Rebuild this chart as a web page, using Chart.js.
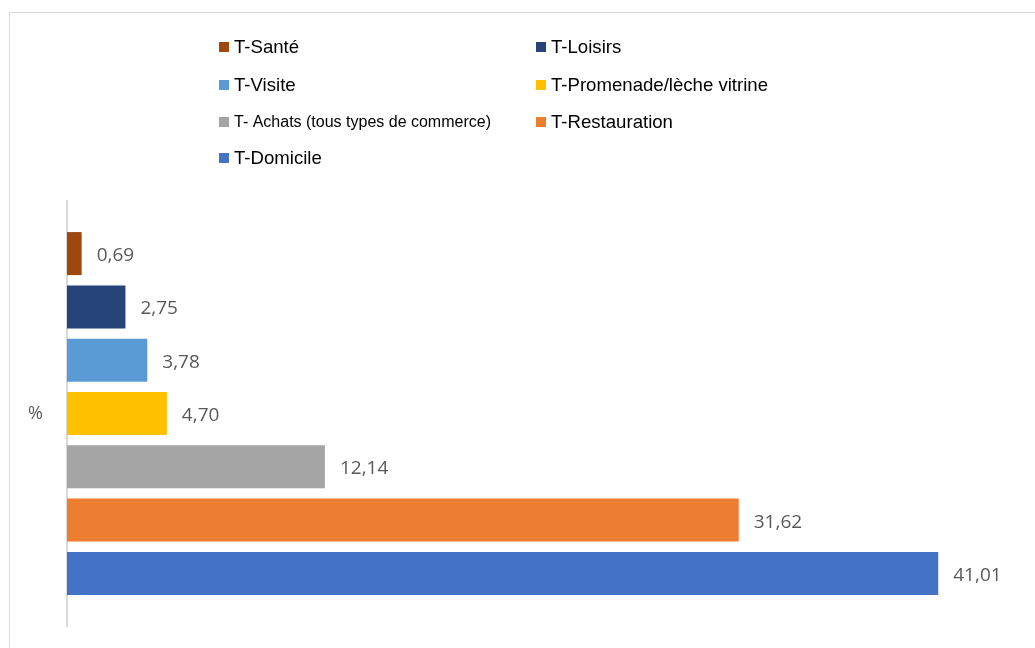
<!DOCTYPE html>
<html>
<head>
<meta charset="utf-8">
<script src="https://cdn.jsdelivr.net/npm/chart.js@4"></script>
<style>
  html, body { margin: 0; padding: 0; background: #fff; overflow: hidden; }
  #wrap { position: relative; width: 1035px; height: 648px; }
  #frame { position: absolute; left: 9px; top: 12px; width: 1100px; height: 700px; border: 1px solid #d9d9d9; box-sizing: border-box; border-width: 1px 0 0 1px; }
  canvas { position: absolute; left: 0; top: 0; }
</style>
</head>
<body>
<div id="wrap">
  <div id="frame"></div>
  <canvas id="c" width="1035" height="648"></canvas>
</div>
<script>
const categories = ['%'];
const seriesLabels = ['T-Santé', 'T-Loisirs', 'T-Visite', 'T-Promenade/lèche vitrine', 'T- Achats (tous types de commerce)', 'T-Restauration', 'T-Domicile'];
const seriesValues = [0.69, 2.75, 3.78, 4.70, 12.14, 31.62, 41.01];
const seriesColors = ['#9E480E', '#264478', '#5B9BD5', '#FFC000', '#A5A5A5', '#ED7D31', '#4472C4'];

const datasets = seriesLabels.map((lab, i) => ({
  label: lab,
  data: [seriesValues[i]],
  backgroundColor: seriesColors[i],
  borderWidth: 0,
  categoryPercentage: 0.878,
  barPercentage: 0.807
}));

const gridLegend = {
  id: 'gridLegend',
  afterDraw(chart, args, opts) {
    const ctx = chart.ctx;
    ctx.save();
    chart.data.datasets.forEach((ds, i) => {
      const col = i % 2, row = Math.floor(i / 2);
      const x = opts.colX[col], y = opts.rowY[row];
      ctx.fillStyle = ds.backgroundColor;
      ctx.fillRect(x, y - opts.box / 2, opts.box, opts.box);
      const size = ds.label.length > 28 ? opts.smallSize : opts.size;
      ctx.font = size + 'px "Liberation Sans", Arial, sans-serif';
      ctx.fillStyle = '#000';
      ctx.textAlign = 'left';
      ctx.textBaseline = 'middle';
      ctx.fillText(ds.label, x + opts.box + opts.gap, y + 1);
    });
    ctx.restore();
  }
};

const valueLabels = {
  id: 'valueLabels',
  afterDatasetsDraw(chart, args, opts) {
    const ctx = chart.ctx;
    ctx.save();
    ctx.font = opts.size + 'px "Open Sans", sans-serif';
    ctx.fillStyle = '#595959';
    ctx.textAlign = 'left';
    ctx.textBaseline = 'middle';
    chart.data.datasets.forEach((ds, i) => {
      const meta = chart.getDatasetMeta(i);
      meta.data.forEach((el, j) => {
        const v = ds.data[j];
        ctx.fillText(v.toFixed(2).replace('.', ','), el.x + opts.offset, el.y + opts.dy);
      });
    });
    ctx.restore();
  }
};

new Chart(document.getElementById('c'), {
  type: 'bar',
  data: { labels: categories, datasets },
  options: {
    indexAxis: 'y',
    responsive: false,
    animation: false,
    layout: { padding: { top: 201, bottom: 22, right: 12, left: 28 } },
    plugins: {
      legend: { display: false },
      tooltip: { enabled: false },
      gridLegend: { colX: [219, 536], rowY: [47, 85, 122, 158], box: 10, gap: 5, size: 18.6, smallSize: 16 },
      valueLabels: { size: 19, offset: 15, dy: 2 }
    },
    scales: {
      x: { display: false, min: 0, max: 45 },
      y: {
        afterFit(scale) { scale.width = 39; },
        grid: { display: false, drawTicks: false },
        border: { display: true, color: '#d9d9d9', width: 2 },
        ticks: { color: '#595959', padding: 0, crossAlign: 'far', font: { family: '"Open Sans", sans-serif', size: 18 } }
      }
    }
  },
  plugins: [gridLegend, valueLabels]
});
</script>
</body>
</html>
